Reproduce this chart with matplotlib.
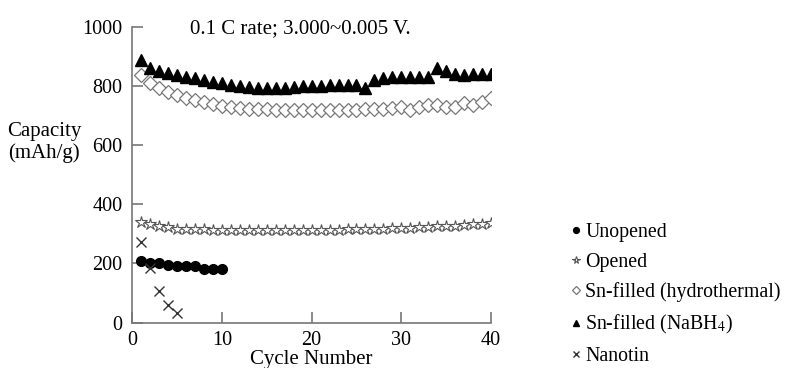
import numpy as np
import matplotlib.pyplot as plt

plt.rcParams['font.family'] = ['Liberation Serif', 'DejaVu Serif']
plt.rcParams['mathtext.fontset'] = 'stix'

# capacity (mAh/g) per cycle
cycles = np.arange(1, 41)
unopened = [208, 200, 202, 195, 190, 190, 191, 182, 182, 182]
opened = [341, 332, 327, 322, 318, 316, 315, 315, 314, 314,
          313, 313, 312, 312, 312, 312, 312, 312, 313, 313,
          313, 314, 314, 315, 315, 316, 317, 318, 319, 320,
          321, 322, 324, 325, 327, 328, 330, 332, 334, 336]
hydrothermal = [837, 809, 793, 781, 770, 760, 752, 745, 738, 732,
                728, 725, 723, 722, 721, 720, 719, 719, 719, 720,
                720, 720, 720, 720, 720, 721, 722, 724, 726, 728,
                719, 728, 736, 736, 730, 728, 742, 736, 747, 759]
nabh4 = [890, 860, 850, 843, 837, 830, 826, 820, 815, 809,
         805, 801, 798, 793, 792, 792, 795, 797, 799, 800,
         802, 803, 804, 804, 804, 792, 820, 828, 830, 830,
         830, 831, 832, 860, 850, 840, 838, 840, 841, 842]
nanotin = [273, 185, 107, 60, 31]

labels = ['Unopened', 'Opened', 'Sn-filled (hydrothermal)',
          'Sn-filled (NaBH$_4$)', 'Nanotin']

fig = plt.figure(figsize=(7.88, 3.68), dpi=100)
ax = fig.add_axes([0.168, 0.1236, 0.455, 0.803])

ax.plot(cycles[:len(unopened)], unopened, 'o', color='black', ms=7, label=labels[0])
ax.plot(cycles, opened, '*', mfc='white', mec='#555555', mew=0.8, ms=9, label=labels[1])
ax.plot(cycles, hydrothermal, 'D', mfc='white', mec='#777777', mew=0.9, ms=7, label=labels[2])
ax.plot(cycles, nabh4, '^', color='black', ms=8, label=labels[3])
ax.plot(cycles[:len(nanotin)], nanotin, 'x', color='#333333', mew=1.0, ms=7, label=labels[4])

ax.set_xlim(0, 40)
ax.set_ylim(0, 1000)
ax.set_xticks([0, 10, 20, 30, 40])
ax.set_yticks([0, 200, 400, 600, 800, 1000])
for s in ['top', 'right']:
    ax.spines[s].set_visible(False)
for s in ['left', 'bottom']:
    ax.spines[s].set_color('#777777')
    ax.spines[s].set_linewidth(1.2)
ax.tick_params(direction='in', length=8, width=1.2, color='#777777',
               labelsize=14.5)
ax.tick_params(axis='y', pad=7)
ax.tick_params(axis='x', pad=6)

ax.text(0.16, 0.995, '0.1 C rate; 3.000~0.005 V.', transform=ax.transAxes,
        fontsize=15, va='center', ha='left')
ax.set_xlabel('Cycle Number', fontsize=15, labelpad=0)
fig.text(0.056, 0.612, 'Capacity\n(mAh/g)', fontsize=15, ha='center', va='center',
         linespacing=1.15)

ax.legend(loc='upper left', bbox_to_anchor=(0.724, 0.395), bbox_transform=fig.transFigure,
          frameon=False, fontsize=14.3, markerscale=0.6, handlelength=0.6,
          handletextpad=0.15, labelspacing=0.55, borderpad=0, borderaxespad=0)

fig.savefig('out.png', dpi=100)
